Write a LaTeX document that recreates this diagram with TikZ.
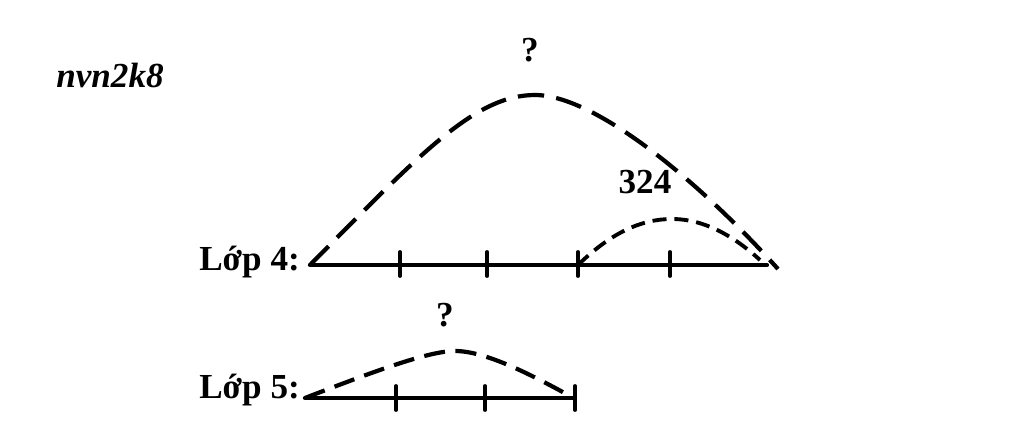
\documentclass[tikz,border=0pt]{standalone}
\usepackage{fontspec}
\setmainfont{Liberation Serif}
\usepackage{tkz-euclide}

\begin{document}
\begin{tikzpicture}[scale=0.2,
	lbl/.style={font=\fontsize{20}{24}\selectfont\bfseries},
	bigdash/.style={line width=2.4pt,dash pattern=on 15pt off 7pt},
	smalldash/.style={line width=2.2pt,dash pattern=on 8pt off 4.5pt}]
	\useasboundingbox (0,0) rectangle (102.4,43.2);
	% Lop 4
	\tkzDefPoints{31/16.7/A,76.7/16.7/B}
	\tkzDefPoints{40/18/T1,40/15.6/S1,48.7/18/T2,48.7/15.6/S2}
	\tkzDefPoints{57.8/18/T3,57.8/15.6/S3,67/18/T4,67/15.6/S4}
	\tkzDefPoints{57.8/16.7/M,53.5/33.7/P,77.8/16.3/E}
	\tkzDefPoints{67.2/21.3/Q,76/17.2/F}
	\tkzDrawSegment[line width=2.4pt](A,B)
	\tkzDrawSegment[line width=2.2pt](T1,S1)
	\tkzDrawSegment[line width=2.2pt](T2,S2)
	\tkzDrawSegment[line width=2.2pt](T3,S3)
	\tkzDrawSegment[line width=2.2pt](T4,S4)
	\draw[bigdash] (A) .. controls (42,27.8) and (47.5,33.7) .. (P)
		.. controls (59.5,33.7) and (70,25) .. (E);
	\draw[smalldash] (M) .. controls (61,19.8) and (64,21.3) .. (Q)
		.. controls (70.5,21.3) and (73.5,19.5) .. (F);
	\node[lbl,anchor=east] (lop4) at (30.6,17) {Lớp 4:};
	\node[lbl] (hoi4) at (53,38.2) {?};
	\node[lbl] (so324) at (64.5,25) {324};
	%%%%%%%%%%%%%%%%%%%%%%%%%%%%%%%%%%%%%%%%%%%%%%%%%%%%%%%%
	% Lop 5
	\tkzDefPoints{30.5/3.4/C,57.5/3.4/D}
	\tkzDefPoints{39.6/4.6/U1,39.6/2.2/V1,48.5/4.6/U2,48.5/2.2/V2}
	\tkzDefPoints{57.5/4.6/U3,57.5/2.2/V3,45.5/8.1/R,57/3.6/G}
	\tkzDrawSegment[line width=2.4pt](C,D)
	\tkzDrawSegment[line width=2.2pt](U1,V1)
	\tkzDrawSegment[line width=2.2pt](U2,V2)
	\tkzDrawSegment[line width=2.2pt](U3,V3)
	\draw[line width=2.4pt,dash pattern=on 12pt off 6pt] (C)
		.. controls (38,6.3) and (43,8.1) .. (R)
		.. controls (48.5,8.1) and (53,5.8) .. (G);
	\node[lbl,anchor=east] (lop5) at (30.6,4.2) {Lớp 5:};
	\node[lbl] (hoi5) at (44.5,11.7) {?};
	% ten
	\node[lbl,font=\fontsize{20}{24}\selectfont\bfseries\itshape] (ten) at (11,35.7) {nvn2k8};
\end{tikzpicture}
\end{document}
